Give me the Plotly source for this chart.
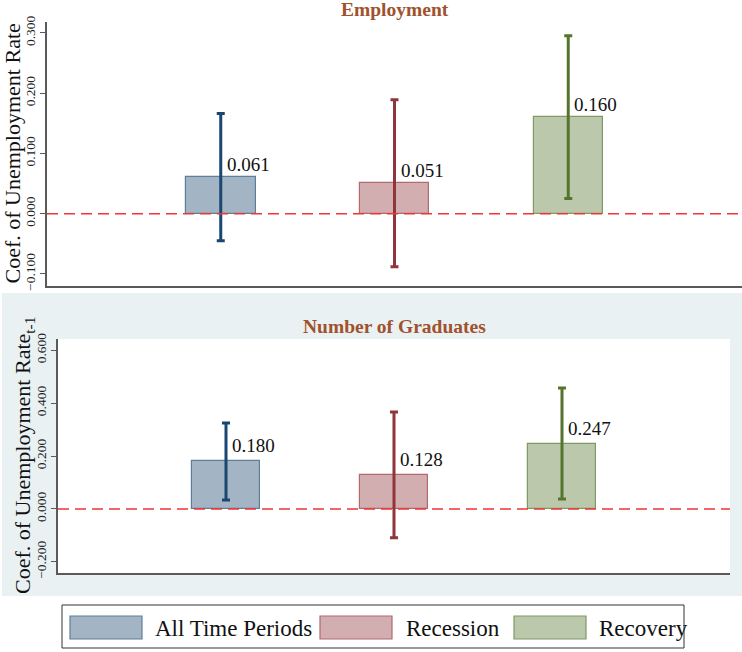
import plotly.graph_objects as go

# ---- data ----
periods = ["All Time Periods", "Recession", "Recovery"]
emp_coef = [0.061, 0.051, 0.160]
emp_hi = [0.166, 0.189, 0.295]
emp_lo = [-0.045, -0.088, 0.025]
grad_coef = [0.180, 0.128, 0.247]
grad_hi = [0.325, 0.366, 0.457]
grad_lo = [0.034, -0.109, 0.038]
emp_ticks = [-0.1, 0.0, 0.1, 0.2, 0.3]
grad_ticks = [-0.2, 0.0, 0.2, 0.4, 0.6]
panel_titles = ["Employment", "Number of Graduates"]
ytitles = ["Coef. of Unemployment Rate", "Coef. of Unemployment Rate<sub>t-1</sub>"]

# ---- styles ----
W, H = 742, 652
def px(x): return x / W
def py(y): return 1 - y / H

line_cols = ["#1a476f", "#90353b", "#55752f"]
fill_cols = ["#A3B5C5", "#D3AEB1", "#BBC8AC"]
edge_cols = ["#5F7E9A", "#B06A70", "#7F9A63"]
FONT = "Liberation Serif"

fig = go.Figure()

panels = [
    (emp_coef, emp_hi, emp_lo, "x", "y", 0),
    (grad_coef, grad_hi, grad_lo, "x2", "y2", 3),
]
for coefs, his, los, xa, ya, ysh in panels:
    for i, p in enumerate(periods):
        fig.add_trace(go.Bar(
            x=[p], y=[coefs[i]], width=0.4,
            xaxis=xa, yaxis=ya,
            marker=dict(color=fill_cols[i], line=dict(color=edge_cols[i], width=1.2)),
            error_y=dict(type="data", symmetric=False,
                         array=[his[i] - coefs[i]], arrayminus=[coefs[i] - los[i]],
                         color=line_cols[i], thickness=3, width=4),
            showlegend=False, hoverinfo="skip",
        ))
        fig.add_annotation(x=p, y=coefs[i], xref=xa, yref=ya,
                           text=f"{coefs[i]:.3f}", showarrow=False,
                           xanchor="left", yanchor="bottom", xshift=4, yshift=ysh,
                           font=dict(family=FONT, size=19, color="#111"))
    fig.add_shape(type="line", xref=f"{xa} domain", yref=ya, x0=0, x1=1, y0=0, y1=0,
                  line=dict(color="#F03535", width=1.5, dash="11px,6px"), layer="above")

# bottom panel background
fig.add_shape(type="rect", xref="paper", yref="paper", x0=px(2), x1=1, y0=py(596), y1=py(293),
              fillcolor="#EAF1F3", line=dict(width=0), layer="below")
fig.add_shape(type="rect", xref="paper", yref="paper", x0=px(58), x1=px(730), y0=py(573), y1=py(339),
              fillcolor="white", line=dict(width=0), layer="below")

axis_common = dict(showline=True, linecolor="#5a5a5a", linewidth=1.5, zeroline=False,
                   showgrid=False, automargin=False)
tickf = dict(family=FONT, size=13.5, color="#222")
fig.update_layout(
    width=W, height=H, margin=dict(l=0, r=0, t=0, b=0),
    paper_bgcolor="white", plot_bgcolor="rgba(0,0,0,0)",
    bargap=0,
    xaxis=dict(domain=[px(47), 1], anchor="y", categoryorder="array", categoryarray=periods,
               range=[-1, 3], showticklabels=False, ticks="", **axis_common),
    yaxis=dict(domain=[py(286), py(22)], anchor="x", range=[-0.12, 0.318],
               tickvals=emp_ticks, tickformat=".3f", ticks="outside", ticklen=5, tickcolor="#5a5a5a",
               tickangle=-90, tickfont=tickf, **axis_common),
    xaxis2=dict(domain=[px(58), px(730)], anchor="y2", categoryorder="array", categoryarray=periods,
                range=[-1, 3], showticklabels=False, ticks="", **axis_common),
    yaxis2=dict(domain=[py(573), py(339)], anchor="x2", range=[-0.242, 0.642],
                tickvals=grad_ticks, tickformat=".3f", ticks="outside", ticklen=5, tickcolor="#5a5a5a",
                tickangle=-90, tickfont=tickf, **axis_common),
)

# panel titles
for t, (xc, yc) in zip(panel_titles, [(394.5, 9), (394, 326)]):
    fig.add_annotation(x=px(xc), y=py(yc), xref="paper", yref="paper", text=f"<b>{t}</b>",
                       xanchor="center", yanchor="middle",
                       showarrow=False, font=dict(family=FONT, size=19.5, color="#A0522D"))
# y-axis titles
for t, (xc, yc) in zip(ytitles, [(12.5, 154), (24, 456)]):
    fig.add_annotation(x=px(xc), y=py(yc), xref="paper", yref="paper", text=t, textangle=-90,
                       xanchor="center", yanchor="middle",
                       showarrow=False, font=dict(family=FONT, size=22, color="#111"))

# legend
fig.add_shape(type="rect", xref="paper", yref="paper", x0=px(62), x1=px(684), y0=py(648), y1=py(605),
              fillcolor="white", line=dict(color="#333", width=1))
sw_x = [70, 320, 514]
tx_x = [153, 404, 597]
for i, p in enumerate(periods):
    fig.add_shape(type="rect", xref="paper", yref="paper", x0=px(sw_x[i]), x1=px(sw_x[i] + 72),
                  y0=py(639), y1=py(616), fillcolor=fill_cols[i], line=dict(color=edge_cols[i], width=1.2))
    fig.add_annotation(x=px(tx_x[i]), y=py(628), xref="paper", yref="paper", text=p,
                       xanchor="left", yanchor="middle", showarrow=False,
                       font=dict(family=FONT, size=23, color="#111"))

fig.write_html("out.html", config={"displayModeBar": False},
               post_script="document.body.style.margin='0';")
